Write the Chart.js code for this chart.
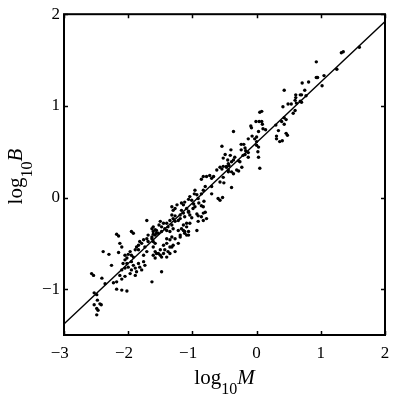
<!DOCTYPE html>
<html>
<head>
<meta charset="utf-8">
<script src="https://cdn.jsdelivr.net/npm/chart.js@4/dist/chart.umd.min.js"></script>
<style>
html,body{margin:0;padding:0;background:#fff;}
#wrap{width:399px;height:403px;position:relative;}
</style>
</head>
<body>
<div id="wrap"><canvas id="c"></canvas></div>
<script>
// ---- data ----
const xTicks = [-3, -2, -1, 0, 1, 2];
const yTicks = [-1, 0, 1, 2];
const xRange = [-3, 2];
const yRange = [-1.5, 2];
const xTitle = ['log', '10', 'M'];
const yTitle = ['log', '10', 'B'];

// fitted line end points
const lineX = [-3, 2];
const lineY = [-1.38, 1.92];

// scatter points
const pointsX = [
 1.60,1.32,1.35,0.93,1.25,1.05,0.93,0.95,0.81,0.71,1.02,0.43,0.75,0.61,0.61,0.68,0.70,0.77,0.49,0.54,0.41,0.68,0.60,0.62,0.60,0.57,0.70,
 0.08,0.05,-0.01,0.04,0.08,-0.09,-0.08,0.09,0.10,0.14,0.03,0.43,0.46,0.39,0.43,0.31,0.31,0.36,0.40,0.46,0.48,0.34,-0.36,-0.07,0.00,-0.03,0.00,-0.13,-0.24,-0.20,0.00,0.03,-0.18,-0.40,-0.24,-0.17,-0.13,-0.21,-0.18,0.02,0.03,-0.13,-0.34,-0.36,-0.39,-0.45,-0.44,-0.28,-0.26,-0.23,-0.44,-0.31,-0.28,0.05,-0.47,0.30,
 -0.54,-0.41,-0.49,-0.52,-0.43,-0.47,-0.52,-0.57,-0.54,-0.44,-0.39,-0.36,-0.62,-0.67,-0.70,-0.73,-0.78,-0.83,-0.86,-0.52,-0.51,-0.57,-0.39,-0.70,-0.57,-0.60,-0.53,-0.80,-0.83,-0.86,-0.96,-0.97,-0.93,-0.91,-0.70,-1.04,-1.06,-1.01,-1.12,-1.14,-1.17,-1.24,-1.27,-1.30,-1.32,-0.99,-0.96,-0.83,-0.80,-0.83,-1.09,-1.06,-0.78,-1.19,-1.27,-1.32,-0.93,-0.91,-1.04,-1.01,
 -1.71,-1.95,-1.92,-2.13,-1.50,-1.52,-1.48,-1.45,-1.61,-1.63,-1.58,-1.56,-1.61,-1.63,-1.69,-1.71,-1.69,-1.76,-1.79,-1.82,-1.84,-1.87,-1.84,-1.89,-1.97,-2.00,-1.95,-1.92,-2.05,-2.02,-1.40,-1.35,-1.30,-1.40,-1.32,-1.45,-1.35,-1.43,-1.50,-1.53,-1.58,-1.61,-1.58,-1.61,-1.74,-1.71,-1.76,-1.48,-1.09,-1.14,-1.06,-1.17,-0.93,-1.12,-1.09,-1.30,-1.22,-1.27,-1.38,-1.19,
 -2.18,-2.15,-2.10,-2.39,-2.30,-2.15,-2.26,-2.05,-2.08,-2.02,-2.00,-2.05,-2.10,-1.95,-1.92,-1.89,-1.95,-1.97,-1.84,-1.82,-1.87,-1.89,-1.76,-1.74,-1.79,-1.48,-1.63,-2.13,-2.05,-2.10,-2.18,-2.23,-2.57,-2.54,-2.41,-2.18,-2.10,-2.02,-2.36,-2.53,-2.49,-2.48,-2.42,-2.53,-2.49,-2.47,-2.44,-2.49,
 -0.98,-0.90,-0.86,-0.82,-1.06,-1.14,-1.17,-1.12,-1.19,-1.22,-1.30,-1.27,-1.35,-1.32,-1.40,-1.38,-1.43,-1.48,-1.53,-1.56,-1.58,-1.61,-1.63,-1.61,-1.14,-1.09,-1.04,-0.91,-0.83,-0.86,-1.12,-1.06,-1.22,-1.19,-1.27,-1.35,-1.40,-1.32,-1.56,-1.50,-1.45,-1.58,-1.40,-1.35
];
const pointsY = [
 1.64,1.58,1.59,1.48,1.40,1.33,1.31,1.31,1.26,1.25,1.22,1.17,1.17,1.12,1.09,1.12,1.12,1.11,1.02,1.02,0.99,1.05,1.06,1.03,0.95,0.92,1.04,
 0.94,0.93,0.83,0.83,0.83,0.78,0.76,0.80,0.75,0.74,0.72,0.87,0.85,0.83,0.80,0.67,0.64,0.61,0.62,0.70,0.68,0.73,0.72,0.67,0.66,0.64,0.61,0.64,0.58,0.58,0.57,0.55,0.54,0.52,0.52,0.51,0.49,0.46,0.47,0.50,0.44,0.44,0.44,0.41,0.39,0.41,0.37,0.40,0.39,0.33,0.30,0.30,0.29,0.32,0.33,0.79,
 0.56,0.46,0.47,0.43,0.35,0.34,0.34,0.33,0.31,0.28,0.28,0.26,0.30,0.23,0.21,0.24,0.23,0.23,0.20,0.22,0.16,0.17,0.11,0.12,-0.03,-0.01,0.00,0.12,0.08,0.04,0.08,0.04,0.03,-0.01,0.04,0.01,-0.02,-0.03,-0.05,-0.08,-0.06,-0.08,-0.12,-0.14,-0.10,-0.12,-0.10,-0.10,-0.16,-0.17,-0.12,-0.15,-0.23,-0.19,-0.20,-0.19,-0.18,-0.20,-0.19,-0.22,
 -0.25,-0.37,-0.39,-0.50,-0.26,-0.30,-0.32,-0.28,-0.32,-0.34,-0.35,-0.39,-0.40,-0.43,-0.41,-0.45,-0.48,-0.46,-0.50,-0.48,-0.52,-0.54,-0.57,-0.57,-0.59,-0.62,-0.63,-0.65,-0.63,-0.66,-0.36,-0.37,-0.34,-0.45,-0.43,-0.52,-0.54,-0.57,-0.57,-0.61,-0.50,-0.54,-0.59,-0.63,-0.54,-0.59,-0.63,-0.65,-0.28,-0.36,-0.37,-0.34,-0.36,-0.39,-0.41,-0.52,-0.50,-0.59,-0.59,-0.41,
 -0.40,-0.42,-0.54,-0.59,-0.62,-0.60,-0.74,-0.68,-0.72,-0.72,-0.76,-0.77,-0.79,-0.70,-0.74,-0.77,-0.79,-0.83,-0.72,-0.76,-0.81,-0.85,-0.70,-0.74,-0.79,-0.81,-0.92,-0.85,-0.86,-0.89,-0.92,-0.93,-0.83,-0.85,-0.88,-1.00,-1.01,-1.02,-0.94,-1.04,-1.06,-1.12,-1.17,-1.17,-1.21,-1.23,-1.16,-1.28,
 -0.07,-0.06,-0.09,-0.04,-0.16,-0.17,-0.14,-0.21,-0.23,-0.25,-0.23,-0.26,-0.25,-0.30,-0.28,-0.32,-0.34,-0.37,-0.39,-0.36,-0.41,-0.37,-0.45,-0.48,-0.30,-0.32,-0.28,-0.26,-0.25,-0.21,-0.37,-0.41,-0.36,-0.43,-0.45,-0.46,-0.50,-0.54,-0.61,-0.63,-0.61,-0.66,-0.65,-0.61
];

// ---- build chart ----
const scatterData = pointsX.map((x, i) => ({x: x, y: pointsY[i]}));
const lineData = lineX.map((x, i) => ({x: x, y: lineY[i]}));
const SERIF = "'Liberation Serif', 'Times New Roman', serif";
const fmt = v => (v < 0 ? '\u2212' + Math.abs(v) : String(v));

function drawTitle(ctx, parts, cx, cy) {
  const big = '21px ' + SERIF, small = '16px ' + SERIF, ital = 'italic 21px ' + SERIF;
  ctx.font = big; const w1 = ctx.measureText(parts[0]).width;
  ctx.font = small; const w2 = ctx.measureText(parts[1]).width;
  ctx.font = ital; const w3 = ctx.measureText(parts[2]).width;
  let x = cx - (w1 + w2 + w3) / 2;
  ctx.fillStyle = '#000';
  ctx.textBaseline = 'alphabetic';
  ctx.textAlign = 'left';
  ctx.font = big; ctx.fillText(parts[0], x, cy); x += w1;
  ctx.font = small; ctx.fillText(parts[1], x, cy + 10); x += w2;
  ctx.font = ital; ctx.fillText(parts[2], x, cy);
}

const framePlugin = {
  id: 'frame',
  afterDraw(chart) {
    const ctx = chart.ctx, a = chart.chartArea;
    const xs = chart.scales.x, ys = chart.scales.y;
    ctx.save();
    ctx.strokeStyle = '#000';
    ctx.lineWidth = 2;
    ctx.strokeRect(a.left, a.top, a.right - a.left, a.bottom - a.top);
    ctx.lineWidth = 1.5;
    ctx.beginPath();
    xTicks.forEach(v => {
      const p = Math.round(xs.getPixelForValue(v)) + 0.5;
      ctx.moveTo(p, a.bottom); ctx.lineTo(p, a.bottom - 4);
      ctx.moveTo(p, a.top); ctx.lineTo(p, a.top + 4);
    });
    yTicks.forEach(v => {
      const p = Math.round(ys.getPixelForValue(v)) + 0.5;
      ctx.moveTo(a.left, p); ctx.lineTo(a.left + 4, p);
      ctx.moveTo(a.right, p); ctx.lineTo(a.right - 4, p);
    });
    ctx.stroke();
    // axis titles
    drawTitle(ctx, xTitle, (a.left + a.right) / 2, 384);
    ctx.translate(22, (a.top + a.bottom) / 2 + 2);
    ctx.rotate(-Math.PI / 2);
    drawTitle(ctx, yTitle, 0, 0);
    ctx.restore();
  }
};

new Chart(document.getElementById('c'), {
  data: {
    datasets: [
      {type: 'line', data: lineData, borderColor: '#000', borderWidth: 1.3, pointRadius: 0, fill: false, tension: 0, order: 1},
      {type: 'scatter', data: scatterData, backgroundColor: '#000', borderWidth: 0, pointRadius: 1.7, order: 2}
    ]
  },
  options: {
    responsive: true,
    maintainAspectRatio: false,
    animation: false,
    events: [],
    layout: {padding: {top: 14, right: 14, left: 0, bottom: 0}},
    plugins: {legend: {display: false}, tooltip: {enabled: false}},
    scales: {
      x: {
        type: 'linear', min: xRange[0], max: xRange[1],
        grid: {display: false, drawTicks: false},
        border: {display: false},
        afterBuildTicks: s => { s.ticks = xTicks.map(v => ({value: v})); },
        afterFit: s => { s.height = 68; },
        ticks: {color: '#000', padding: 8, maxRotation: 0, autoSkip: false,
          font: {family: SERIF, size: 17}, callback: v => (v < 0 ? fmt(v) + '\u2002' : fmt(v))}
      },
      y: {
        type: 'linear', min: yRange[0], max: yRange[1],
        grid: {display: false, drawTicks: false},
        border: {display: false},
        afterBuildTicks: s => { s.ticks = yTicks.map(v => ({value: v})); },
        afterFit: s => { s.width = 64; },
        ticks: {color: '#000', padding: 4, autoSkip: false,
          font: {family: SERIF, size: 17}, callback: v => fmt(v)}
      }
    }
  },
  plugins: [framePlugin]
});
</script>
</body>
</html>
